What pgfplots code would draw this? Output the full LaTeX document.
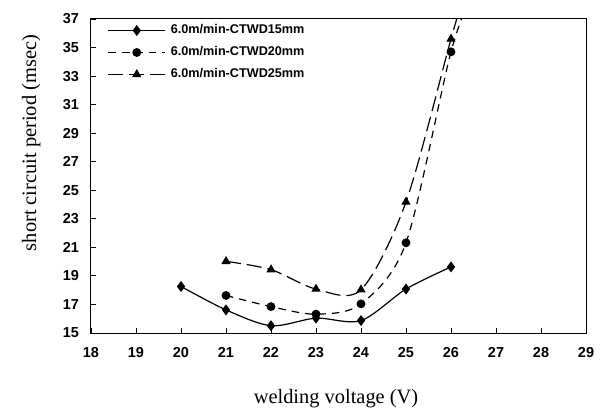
\documentclass[border=0pt]{standalone}
\usepackage{fontspec}
\setmainfont{Liberation Serif}
\newfontfamily\arial{Liberation Sans}
\usepackage{pgfplots}
\pgfplotsset{compat=1.18}
\begin{document}
\begin{tikzpicture}
\useasboundingbox (-91bp,-83bp) rectangle (512bp,333bp);
\begin{axis}[
  scale only axis, width=495bp, height=314bp,
  at={(0,0)}, anchor=south west,
  xmin=18, xmax=29, ymin=15, ymax=37,
  xtick={18,...,29}, ytick={15,17,...,37},
  tick align=inside, xtick pos=bottom, ytick pos=left,
  major tick length=5bp,
  axis line style={line width=1bp},
  tick style={line width=0.9bp, black},
  /pgf/number format/assume math mode=true,
  ticklabel style={font=\arial\bfseries\fontsize{14.5}{16}\selectfont},
  xticklabel style={yshift=-11bp},
  yticklabel style={xshift=-8.5bp},
  xlabel={welding voltage (V)}, ylabel={short circuit period (msec)},
  label style={font=\fontsize{20.5}{24}\selectfont},
  xlabel style={at={(axis description cs:0.495,-0.21)}, anchor=center},
  ylabel style={at={(axis description cs:-0.121,0.605)}, anchor=center},
  clip marker paths=true,
  every axis plot/.append style={line width=1.2bp, black},
  legend cell align=left,
  legend style={draw=none, fill=none, at={(axis cs:18.3,36.7)}, anchor=north west,
    font=\arial\bfseries\fontsize{12.7}{14}\selectfont,
    nodes={inner sep=0pt, text height=8bp, text depth=2bp},
    row sep=12bp,
    /tikz/every odd column/.append style={column sep=5bp}},
  legend image code/.code={
    \draw[mark repeat=2,mark phase=2,#1] plot coordinates {(0bp,0bp) (28.5bp,0bp) (57bp,0bp)};
  },
]
\addplot[smooth, mark=diamond*, mark size=4.5bp, mark options={solid}] coordinates {
 (20,18.26) (21,16.62) (22,15.51) (23,16.04) (24,15.87) (25,18.08) (26,19.63)};
\addlegendentry{6.0m/min-CTWD15mm}
\addplot[smooth, dash pattern=on 7.5bp off 6bp, mark=*, mark size=3.8bp, mark options={solid}] coordinates {
 (21,17.63) (22,16.85) (23,16.32) (24,17.04) (25,21.32) (26,34.7) (26.5,39.0)};
\addlegendentry{6.0m/min-CTWD20mm}
\addplot[smooth, dash pattern=on 15bp off 6bp, mark=triangle*, mark size=4.2bp, mark options={solid}] coordinates {
 (21,20.02) (22,19.44) (23,18.08) (24,18.03) (25,24.18) (26,35.6) (26.4,39.9)};
\addlegendentry{6.0m/min-CTWD25mm}
\end{axis}
\end{tikzpicture}
\end{document}
